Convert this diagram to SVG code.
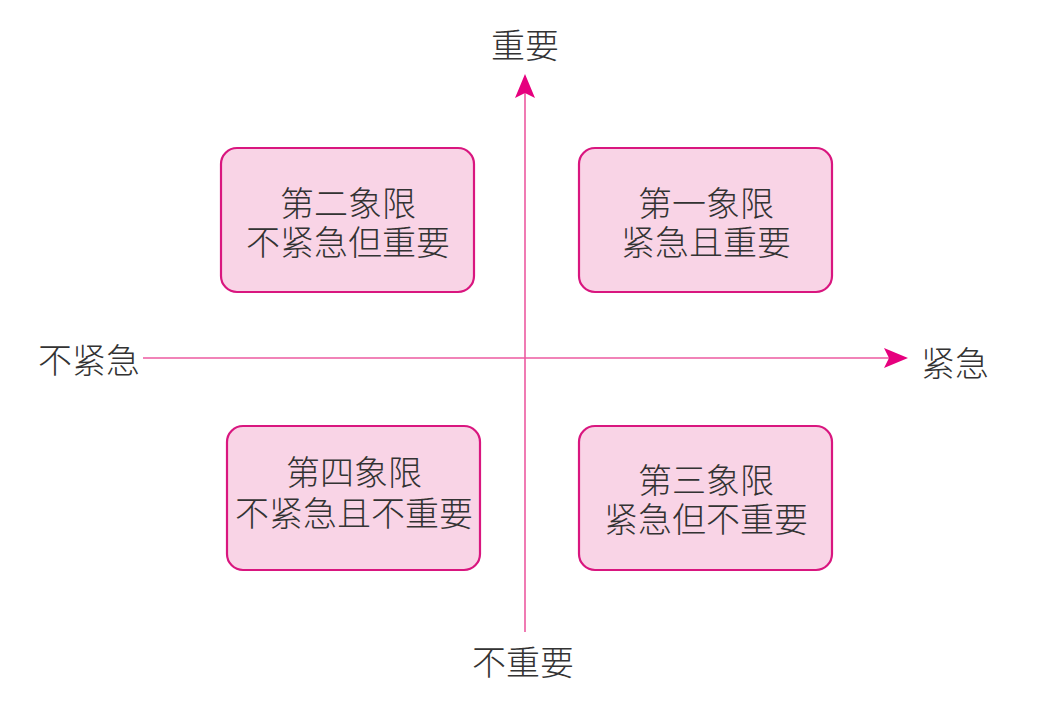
<svg xmlns="http://www.w3.org/2000/svg" width="1062" height="706" viewBox="0 0 1062 706">
<style>
.box{fill:#f9d4e6;stroke:#d9167f;stroke-width:2.2}
.t{font-family:"Noto Sans CJK SC","Noto Sans",sans-serif;font-weight:300;font-size:34px;fill:#333;text-anchor:middle;dominant-baseline:central}
.ax{stroke:#ec5aa0;stroke-width:1.6;fill:none}
</style>
<defs>
<marker id="ahu" markerWidth="24" markerHeight="20" refX="22" refY="10" orient="auto" markerUnits="userSpaceOnUse" viewBox="0 0 24 20">
<path d="M0,0 L24,10 L0,20 L5,10 Z" fill="#e6007e"/>
</marker>
</defs>
<rect width="1062" height="706" fill="#fff"/>
<g id="connectors">
<line class="ax" x1="525" y1="632" x2="525" y2="76" marker-end="url(#ahu)"/>
<line class="ax" x1="143" y1="358" x2="906" y2="358" marker-end="url(#ahu)"/>
</g>
<g id="q2">
<rect class="box" x="221" y="148" width="253" height="144" rx="16"/>
<text class="t"><tspan x="348" y="201">第二象限</tspan><tspan x="348" y="240">不紧急但重要</tspan></text>
</g>
<g id="q1">
<rect class="box" x="579" y="148" width="253" height="144" rx="16"/>
<text class="t"><tspan x="706" y="201">第一象限</tspan><tspan x="706" y="240">紧急且重要</tspan></text>
</g>
<g id="q4">
<rect class="box" x="227" y="426" width="253" height="144" rx="16"/>
<text class="t"><tspan x="354" y="470">第四象限</tspan><tspan x="354" y="511">不紧急且不重要</tspan></text>
</g>
<g id="q3">
<rect class="box" x="579" y="426" width="253" height="144" rx="16"/>
<text class="t"><tspan x="706" y="478">第三象限</tspan><tspan x="706" y="517">紧急但不重要</tspan></text>
</g>
<g id="labels">
<text class="t" x="525" y="43">重要</text>
<text class="t" x="523" y="660">不重要</text>
<text class="t" x="89" y="358">不紧急</text>
<text class="t" x="955" y="361">紧急</text>
</g>
</svg>
